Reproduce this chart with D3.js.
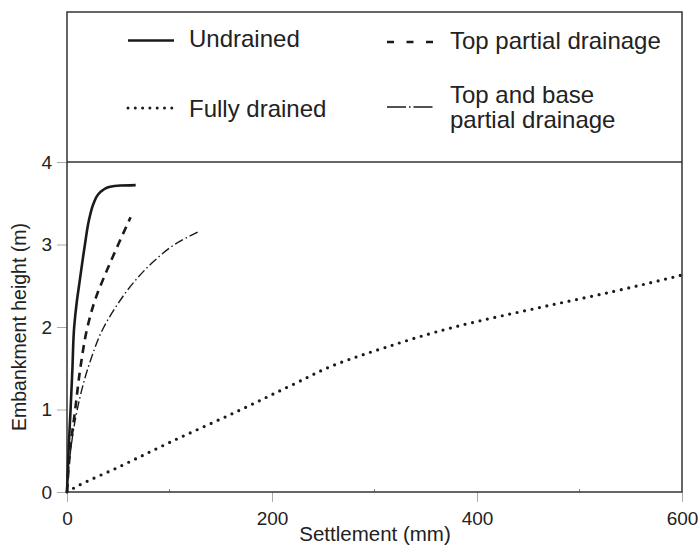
<!DOCTYPE html>
<html>
<head>
<meta charset="utf-8">
<script src="https://cdn.jsdelivr.net/npm/d3@7"></script>
<style>
body { margin: 0; background: #fff; }
text { font-family: "Liberation Sans", Arial, sans-serif; fill: #222; }
</style>
</head>
<body>
<svg width="698" height="546"></svg>
<script>
// settlement (mm) and embankment height (m)
var undrainedS = [0, 1.5, 3.5, 5.3, 7, 9.5, 12.3, 17.5, 21.5, 26, 30, 35, 42, 52, 67];
var undrainedH = [0, 0.5, 1, 1.5, 2, 2.3, 2.55, 3, 3.3, 3.5, 3.6, 3.66, 3.7, 3.715, 3.72];

var topS = [0, 3, 8, 13, 20, 28, 36, 50, 62];
var topH = [0, 0.5, 1, 1.5, 2, 2.35, 2.6, 3.0, 3.33];

var topBaseS = [0, 3.5, 10, 22, 36, 48, 65, 85, 105, 129];
var topBaseH = [0, 0.5, 1, 1.56, 2, 2.25, 2.54, 2.8, 3.0, 3.16];

var drainedS = [0, 10, 50, 100, 170, 220, 263, 310, 378, 470, 533, 600];
var drainedH = [0, 0.07, 0.3, 0.6, 1.0, 1.3, 1.55, 1.75, 2.0, 2.26, 2.43, 2.63];

var xTicks = [0, 200, 400, 600];
var xMinorTicks = [100, 300, 500];
var yTicks = [0, 1, 2, 3, 4];

var svg = d3.select("svg");

var x = d3.scaleLinear().domain([0, 600]).range([67, 682]);
var y = d3.scaleLinear().domain([0, 4]).range([492, 162]);

// pair up the arrays into points
function pts(s, h) {
	return s.map(function(d, i) { return [d, h[i]]; });
}

// heights always rise, so interpolate settlement as a function of height
var line = d3.line()
	.x(function(d) { return x(d[0]); })
	.y(function(d) { return y(d[1]); })
	.curve(d3.curveMonotoneY);

// axes
var xAxis = d3.axisBottom(x).tickValues(xTicks).tickSize(10).tickPadding(5).tickFormat(d3.format("d"));
var yAxis = d3.axisLeft(y).tickValues(yTicks).tickSize(10).tickPadding(5).tickFormat(d3.format("d"));

var gx = svg.append("g").attr("transform", "translate(0,492)").call(xAxis);
var gy = svg.append("g").attr("transform", "translate(67,0)").call(yAxis);
[gx, gy].forEach(function(g) {
	g.select(".domain").remove();
	g.selectAll(".tick line").attr("stroke", "#aaa").attr("stroke-width", 1);
	g.selectAll(".tick text").attr("font-size", 19).style("fill", "#222")
		.attr("font-family", "Liberation Sans, Arial, sans-serif");
});
gx.selectAll(".tick text").attr("dy", "0.95em");

// small inside ticks at 100, 300, 500
svg.selectAll(".minor")
	.data(xMinorTicks)
	.enter().append("line")
	.attr("x1", function(d) { return x(d); })
	.attr("x2", function(d) { return x(d); })
	.attr("y1", 492)
	.attr("y2", 489)
	.attr("stroke", "#888");

// frame and legend box
svg.append("rect")
	.attr("x", 67).attr("y", 12)
	.attr("width", 615).attr("height", 480)
	.attr("fill", "none").attr("stroke", "#333").attr("stroke-width", 1.5);
svg.append("line")
	.attr("x1", 67).attr("x2", 682)
	.attr("y1", y(4)).attr("y2", y(4))
	.attr("stroke", "#333").attr("stroke-width", 1.5);

// curves
var series = [
	{ name: "Undrained", data: pts(undrainedS, undrainedH), width: 2.6, dash: null, cap: "butt" },
	{ name: "Top partial drainage", data: pts(topS, topH), width: 2.6, dash: "8,6", cap: "butt" },
	{ name: "Top and base partial drainage", data: pts(topBaseS, topBaseH), width: 1.4, dash: "9,3,1.5,3", cap: "butt" },
	{ name: "Fully drained", data: pts(drainedS, drainedH), width: 3.2, dash: "0,7.6", cap: "round" }
];

svg.selectAll(".curve")
	.data(series)
	.enter().append("path")
	.attr("class", "curve")
	.attr("d", function(d) { return line(d.data); })
	.attr("fill", "none")
	.attr("stroke", "#1a1a1a")
	.attr("stroke-width", function(d) { return d.width; })
	.attr("stroke-dasharray", function(d) { return d.dash; })
	.attr("stroke-linecap", function(d) { return d.cap; });

// legend
var legend = [
	{ x1: 128, x2: 174, y: 40.5, dash: null, width: 2.4, cap: "butt", tx: 189, lines: ["Undrained"], ty: 47 },
	{ x1: 128, x2: 174, y: 108, dash: "0,7.3", width: 3, cap: "round", tx: 189, lines: ["Fully drained"], ty: 117 },
	{ x1: 387, x2: 433, y: 42, dash: "7,12.5", width: 2.4, cap: "butt", tx: 450, lines: ["Top partial drainage"], ty: 49 },
	{ x1: 387, x2: 433, y: 107, dash: "19,3,1.5,3,19", width: 1.6, cap: "butt", tx: 450, lines: ["Top and base", "partial drainage"], ty: 103 }
];

var lg = svg.selectAll(".leg")
	.data(legend)
	.enter().append("g")
	.attr("class", "leg");

lg.append("line")
	.attr("x1", function(d) { return d.x1; })
	.attr("x2", function(d) { return d.x2; })
	.attr("y1", function(d) { return d.y; })
	.attr("y2", function(d) { return d.y; })
	.attr("stroke", "#1a1a1a")
	.attr("stroke-width", function(d) { return d.width; })
	.attr("stroke-dasharray", function(d) { return d.dash; })
	.attr("stroke-linecap", function(d) { return d.cap; });

lg.each(function(d) {
	var t = d3.select(this).append("text")
		.attr("x", d.tx)
		.attr("y", d.ty)
		.attr("font-size", 24);
	d.lines.forEach(function(s, i) {
		t.append("tspan").attr("x", d.tx).attr("dy", i == 0 ? 0 : 25).text(s);
	});
});

// axis titles
svg.append("text")
	.attr("x", 375).attr("y", 541)
	.attr("text-anchor", "middle")
	.attr("font-size", 20.5)
	.text("Settlement (mm)");

svg.append("text")
	.attr("transform", "translate(26,327) rotate(-90)")
	.attr("text-anchor", "middle")
	.attr("font-size", 19.5)
	.text("Embankment height (m)");
</script>
</body>
</html>
